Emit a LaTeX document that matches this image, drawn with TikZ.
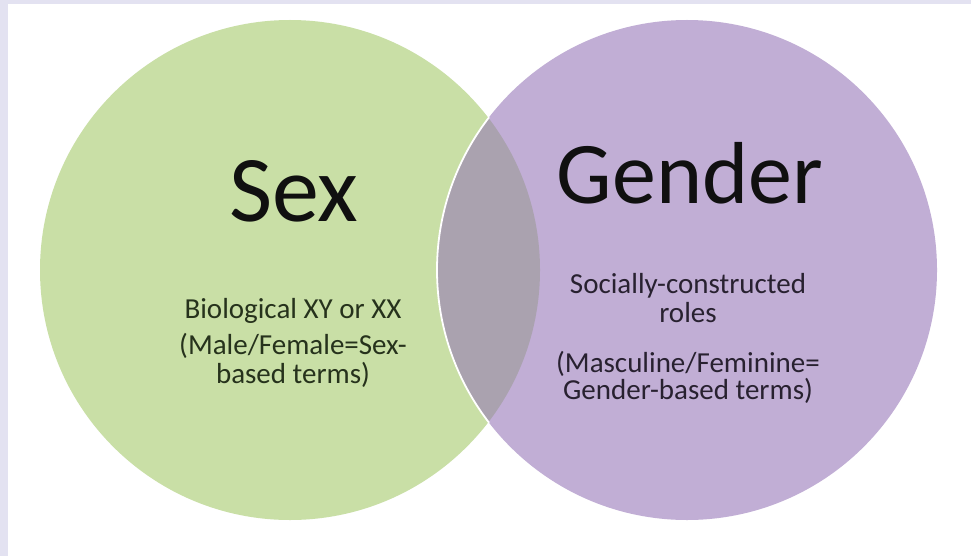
\documentclass[tikz,border=0pt]{standalone}
\usepackage{fontspec}
\setmainfont{Carlito}
\definecolor{strip}{HTML}{E3E2F1}
\definecolor{greenc}{HTML}{C9DFA6}
\definecolor{purplec}{HTML}{C1AED5}
\definecolor{overlapc}{HTML}{AAA2AF}
\definecolor{titlec}{HTML}{101010}
\definecolor{gtext}{HTML}{26321C}
\definecolor{ptext}{HTML}{282130}
\tikzset{
  title/.style={anchor=base, inner sep=0pt, text=titlec},
  small/.style={anchor=base, inner sep=0pt, font=\fontsize{29}{30}\selectfont},
}
\begin{document}
\begin{tikzpicture}[x=1pt,y=-1pt]
\useasboundingbox (0,0) rectangle (971,556);
\fill[strip] (0,0) rectangle (971,556);
\fill[white] (8,4) rectangle (971,556);
% circles
\fill[greenc] (290,270) circle (250pt);
\fill[purplec] (687,270) circle (250pt);
\begin{scope}
  \clip (290,270) circle (250pt);
  \fill[overlapc] (687,270) circle (250pt);
\end{scope}
\begin{scope}
  \clip (290,270) circle (251pt);
  \draw[white, line width=1.8pt] (687,270) circle (250pt);
\end{scope}
% texts
\node[title, font=\fontsize{94}{94}\selectfont] (sex) at (294,222) {Sex};
\node[title, font=\fontsize{88}{88}\selectfont] (gender) at (690,204) {Gender};
\node[small, text=gtext] (s1) at (293,318) {Biological XY or XX};
\node[small, text=gtext] (s2) at (293,354) {(Male/Female=Sex-};
\node[small, text=gtext] (s3) at (293,383) {based terms)};
\node[small, text=ptext] (g1) at (688,293) {Socially-constructed};
\node[small, text=ptext] (g2) at (688,322) {roles};
\node[small, text=ptext] (g3) at (688,372) {(Masculine/Feminine=};
\node[small, text=ptext] (g4) at (688,399) {Gender-based terms)};
\end{tikzpicture}
\end{document}
